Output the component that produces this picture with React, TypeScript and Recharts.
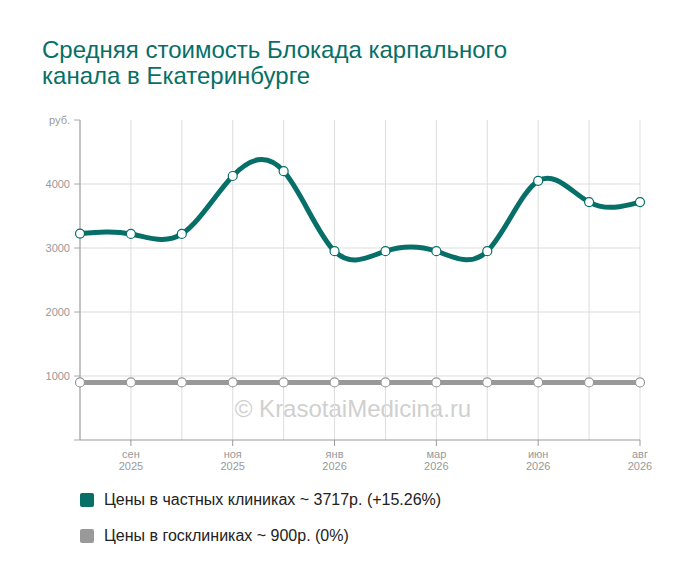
import React from 'react';
import { LineChart, Line, XAxis, YAxis, CartesianGrid } from 'recharts';

const months = ['авг', 'сен', 'окт', 'ноя', 'дек', 'янв', 'фев', 'мар', 'май', 'июн', 'июл', 'авг'];
const years = ['2025', '2025', '2025', '2025', '2025', '2026', '2026', '2026', '2026', '2026', '2026', '2026'];
const shownTicks = [false, true, false, true, false, true, false, true, false, true, false, true];
const privatePrices = [3225, 3220, 3220, 4125, 4200, 2950, 2950, 2950, 2950, 4050, 3717, 3717];
const statePrices = [900, 900, 900, 900, 900, 900, 900, 900, 900, 900, 900, 900];
const yTicks = [0, 1000, 2000, 3000, 4000, 5000];

const data = months.map((m, i) => ({
  key: `${m} ${years[i]} ${i}`,
  idx: i,
  priv: privatePrices[i],
  state: statePrices[i],
}));

const TEAL = '#066f67';
const GREY = '#999999';
const FONT = '"Liberation Sans", Arial, sans-serif';

const XTick = (props: any) => {
  const { x, y, payload } = props;
  const i = payload.index;
  if (!shownTicks[i]) return null;
  return (
    <g>
      <line x1={x} y1={y - 8} x2={x} y2={y - 2} stroke="#999" strokeWidth={1} />
      <text x={x} y={y + 10} textAnchor="middle" fill="#999" fontSize={11} fontFamily={FONT}>
        {months[i]}
      </text>
      <text x={x} y={y + 22} textAnchor="middle" fill="#999" fontSize={11} fontFamily={FONT}>
        {years[i]}
      </text>
    </g>
  );
};

const YTick = (props: any) => {
  const { x, y, payload } = props;
  const v = payload.value;
  if (v === 0) return null;
  const label = v === 5000 ? 'руб.' : String(v);
  return (
    <text x={x} y={y} dy={4} textAnchor="end" fill="#999" fontSize={11} fontFamily={FONT}>
      {label}
    </text>
  );
};

export default function App() {
  return (
    <div style={{ position: 'relative', width: 700, height: 583, margin: '-8px 0 0 -8px', background: '#fff', fontFamily: FONT }}>
      <div style={{ position: 'absolute', left: 42, top: 37, color: TEAL, fontSize: 24, lineHeight: '26px' }}>
        Средняя стоимость Блокада карпального<br />канала в Екатеринбурге
      </div>
      <div style={{ position: 'absolute', left: 0, width: 706, top: 395, textAlign: 'center', color: '#d0d0d0', fontSize: 24 }}>
        © KrasotaiMedicina.ru
      </div>
      <div style={{ position: 'absolute', left: 0, top: 0 }}>
        <LineChart width={700} height={583} data={data} margin={{ top: 120, right: 60, bottom: 113, left: 40 }}>
          <CartesianGrid stroke="#dddddd" strokeWidth={1} horizontalValues={[1000, 2000, 3000, 4000]} />
          <XAxis
            dataKey="key"
            interval={0}
            tick={<XTick />}
            tickLine={false}
            axisLine={{ stroke: '#999', strokeWidth: 1 }}
            height={30}
          />
          <YAxis
            domain={[0, 5000]}
            ticks={yTicks}
            interval={0}
            width={40}
            tick={<YTick />}
            tickLine={{ stroke: '#aaa' }}
            tickSize={6}
            tickMargin={4}
            axisLine={{ stroke: '#999', strokeWidth: 1 }}
          />
          <Line
            dataKey="state"
            type="natural"
            stroke={GREY}
            strokeWidth={5}
            dot={{ r: 4.5, fill: '#fff', stroke: GREY, strokeWidth: 1.2 }}
            isAnimationActive={false}
          />
          <Line
            dataKey="priv"
            type="natural"
            stroke={TEAL}
            strokeWidth={5}
            dot={{ r: 4.5, fill: '#fff', stroke: TEAL, strokeWidth: 1.2 }}
            isAnimationActive={false}
          />
        </LineChart>
      </div>
      <div style={{ position: 'absolute', left: 80, top: 491, display: 'flex', alignItems: 'center' }}>
        <div style={{ width: 14, height: 14, background: TEAL, borderRadius: 2 }} />
        <span style={{ marginLeft: 10, fontSize: 16, color: '#222' }}>Цены в частных клиниках ~ 3717р. (+15.26%)</span>
      </div>
      <div style={{ position: 'absolute', left: 80, top: 527, display: 'flex', alignItems: 'center' }}>
        <div style={{ width: 14, height: 14, background: GREY, borderRadius: 2 }} />
        <span style={{ marginLeft: 10, fontSize: 16, color: '#222' }}>Цены в госклиниках ~ 900р. (0%)</span>
      </div>
    </div>
  );
}
